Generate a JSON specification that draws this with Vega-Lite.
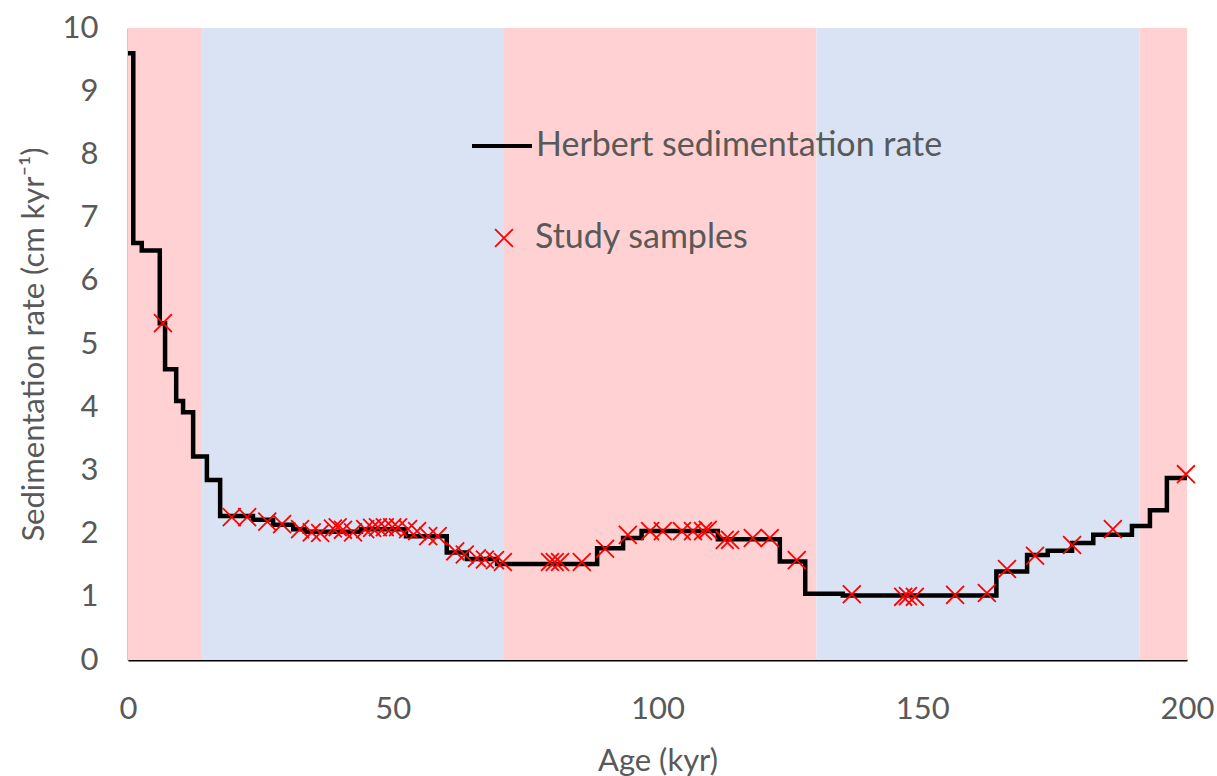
{
  "$schema": "https://vega.github.io/schema/vega-lite/v6.json",
  "width": 1059,
  "height": 632,
  "autosize": {"type": "none"},
  "padding": {"left": 128, "top": 28, "right": 30, "bottom": 116},
  "background": "white",
  "config": {"view": {"stroke": null}, "font": "Lato, 'DejaVu Sans', sans-serif"},
  "datasets": {
    "bands": [
      {"start": 0, "end": 14, "stage": "MIS 1"},
      {"start": 14, "end": 71, "stage": "MIS 2-4"},
      {"start": 71, "end": 130, "stage": "MIS 5"},
      {"start": 130, "end": 191, "stage": "MIS 6"},
      {"start": 191, "end": 200, "stage": "MIS 7"}
    ],
    "rate": [
      {"age": 0, "rate": 9.6},
      {"age": 1.0, "rate": 6.6},
      {"age": 2.6, "rate": 6.48},
      {"age": 6.0, "rate": 5.33},
      {"age": 7.0, "rate": 4.6},
      {"age": 9.1, "rate": 4.1},
      {"age": 10.4, "rate": 3.92},
      {"age": 12.3, "rate": 3.22},
      {"age": 14.9, "rate": 2.85},
      {"age": 17.4, "rate": 2.28},
      {"age": 23.6, "rate": 2.22},
      {"age": 27.4, "rate": 2.14},
      {"age": 31.2, "rate": 2.07},
      {"age": 33.4, "rate": 2.03},
      {"age": 44.0, "rate": 2.07},
      {"age": 52.5, "rate": 1.96},
      {"age": 60.2, "rate": 1.7},
      {"age": 64.0, "rate": 1.6},
      {"age": 69.7, "rate": 1.52},
      {"age": 88.6, "rate": 1.77},
      {"age": 93.5, "rate": 1.93},
      {"age": 97.0, "rate": 2.04},
      {"age": 111.4, "rate": 1.91},
      {"age": 123.1, "rate": 1.56},
      {"age": 127.9, "rate": 1.05},
      {"age": 135.0, "rate": 1.02},
      {"age": 164.0, "rate": 1.4},
      {"age": 169.8, "rate": 1.66},
      {"age": 173.7, "rate": 1.73},
      {"age": 178.3, "rate": 1.85},
      {"age": 182.3, "rate": 1.98},
      {"age": 189.6, "rate": 2.12},
      {"age": 193.0, "rate": 2.37},
      {"age": 196.2, "rate": 2.88},
      {"age": 200, "rate": 2.88}
    ],
    "samples": [
      {"age": 6.6, "rate": 5.33},
      {"age": 19.6, "rate": 2.26},
      {"age": 22.5, "rate": 2.26},
      {"age": 26.3, "rate": 2.19},
      {"age": 29.1, "rate": 2.15},
      {"age": 32.5, "rate": 2.07},
      {"age": 34.7, "rate": 2.02},
      {"age": 36.3, "rate": 2.01},
      {"age": 38.7, "rate": 2.08},
      {"age": 39.6, "rate": 2.1},
      {"age": 40.6, "rate": 2.06},
      {"age": 42.5, "rate": 2.02},
      {"age": 44.8, "rate": 2.07},
      {"age": 46.1, "rate": 2.09},
      {"age": 47.2, "rate": 2.1},
      {"age": 48.5, "rate": 2.1},
      {"age": 49.9, "rate": 2.1},
      {"age": 51.0, "rate": 2.1},
      {"age": 52.9, "rate": 2.07},
      {"age": 54.6, "rate": 2.04},
      {"age": 56.7, "rate": 1.96},
      {"age": 58.5, "rate": 1.96},
      {"age": 61.8, "rate": 1.72},
      {"age": 63.6, "rate": 1.67},
      {"age": 65.9, "rate": 1.61},
      {"age": 67.4, "rate": 1.59},
      {"age": 69.3, "rate": 1.58},
      {"age": 70.8, "rate": 1.55},
      {"age": 79.7, "rate": 1.55},
      {"age": 80.6, "rate": 1.55},
      {"age": 81.6, "rate": 1.55},
      {"age": 85.7, "rate": 1.55},
      {"age": 90.1, "rate": 1.76},
      {"age": 94.4, "rate": 1.98},
      {"age": 98.6, "rate": 2.04},
      {"age": 101.0, "rate": 2.04},
      {"age": 104.6, "rate": 2.04},
      {"age": 106.7, "rate": 2.04},
      {"age": 108.6, "rate": 2.04},
      {"age": 109.5, "rate": 2.06},
      {"age": 112.7, "rate": 1.9},
      {"age": 113.7, "rate": 1.9},
      {"age": 118.0, "rate": 1.93},
      {"age": 121.2, "rate": 1.93},
      {"age": 126.3, "rate": 1.58},
      {"age": 136.7, "rate": 1.04},
      {"age": 146.4, "rate": 1.0},
      {"age": 147.3, "rate": 1.01},
      {"age": 148.6, "rate": 1.0},
      {"age": 156.2, "rate": 1.03},
      {"age": 162.2, "rate": 1.06},
      {"age": 166.0, "rate": 1.44},
      {"age": 171.3, "rate": 1.65},
      {"age": 178.3, "rate": 1.82},
      {"age": 186.0, "rate": 2.07},
      {"age": 199.8, "rate": 2.94}
    ]
  },
  "layer": [
    {
      "data": {"name": "bands"},
      "mark": {"type": "rect"},
      "encoding": {
        "x": {
          "field": "start",
          "type": "quantitative",
          "scale": {"domain": [0, 200], "nice": false, "zero": false},
          "axis": {
            "title": "Age (kyr)",
            "values": [0, 50, 100, 150, 200],
            "format": "d",
            "grid": false,
            "ticks": false,
            "domainColor": "#000000",
            "domainWidth": 2,
            "labelFontSize": 31,
            "labelColor": "#595959",
            "labelPadding": 34,
            "labelFlush": false,
            "titleFontSize": 31,
            "titleFontWeight": "normal",
            "titleColor": "#595959",
            "titlePadding": 22
          }
        },
        "x2": {"field": "end"},
        "y": {"datum": 0, "type": "quantitative",
          "scale": {"domain": [0, 10], "nice": false},
          "axis": {
            "title": "Sedimentation rate (cm kyr⁻¹)",
            "values": [0, 1, 2, 3, 4, 5, 6, 7, 8, 9, 10],
            "format": "d",
            "grid": false,
            "ticks": false,
            "domainColor": "#333333",
            "domainWidth": 1.5,
            "labelFontSize": 31,
            "labelColor": "#595959",
            "labelPadding": 30,
            "labelFlush": false,
            "titleFontSize": 31,
            "titleFontWeight": "normal",
            "titleColor": "#595959",
            "titlePadding": 12
          }
        },
        "y2": {"datum": 10},
        "fill": {
          "field": "stage",
          "type": "nominal",
          "scale": {
            "domain": ["MIS 1", "MIS 2-4", "MIS 5", "MIS 6", "MIS 7"],
            "range": ["#FFD1D2", "#DAE3F3", "#FFD1D2", "#DAE3F3", "#FFD1D2"]
          },
          "legend": null
        }
      }
    },
    {
      "data": {"name": "rate"},
      "mark": {"type": "line", "interpolate": "step-after", "strokeWidth": 4.5},
      "encoding": {
        "x": {"field": "age", "type": "quantitative"},
        "y": {"field": "rate", "type": "quantitative"},
        "stroke": {
          "datum": "Herbert sedimentation rate",
          "scale": {"range": ["#000000"]},
          "legend": {
            "title": null,
            "orient": "none",
            "legendX": 342,
            "legendY": 86,
            "padding": 0,
            "symbolType": "stroke",
            "symbolSize": 3600,
            "symbolStrokeWidth": 4,
            "labelFontSize": 34,
            "labelColor": "#595959",
            "labelOffset": 2,
            "labelLimit": 700
          }
        }
      }
    },
    {
      "data": {"name": "samples"},
      "mark": {"type": "point", "shape": "M-1,-1L1,1M1,-1L-1,1", "filled": false, "size": 320, "strokeWidth": 1.8, "opacity": 1},
      "encoding": {
        "x": {"field": "age", "type": "quantitative"},
        "y": {"field": "rate", "type": "quantitative"},
        "color": {
          "datum": "Study samples",
          "scale": {"range": ["#FF0000"]},
          "legend": {
            "title": null,
            "orient": "none",
            "legendX": 359,
            "legendY": 193,
            "padding": 0,
            "symbolType": "M-1,-1L1,1M1,-1L-1,1",
            "symbolSize": 320,
            "symbolStrokeWidth": 1.8,
            "symbolFillColor": "transparent",
            "labelFontSize": 34,
            "labelColor": "#595959",
            "labelOffset": 14,
            "labelLimit": 700
          }
        }
      }
    }
  ]
}
